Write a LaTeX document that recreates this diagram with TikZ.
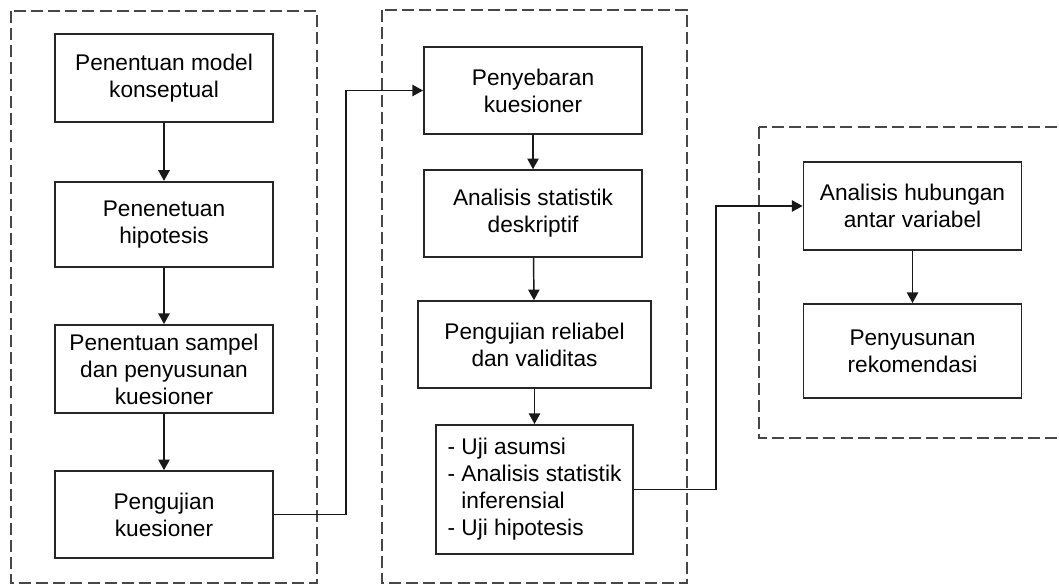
\documentclass[tikz,border=0pt]{standalone}
\usepackage{fontspec}
\setmainfont{Liberation Sans}
\usetikzlibrary{arrows.meta}

\begin{document}
\begin{tikzpicture}[x=0.75pt,y=-0.75pt,
  box/.style={draw=black!85,line width=1.4pt,align=center,minimum width=163.5pt,minimum height=65pt,inner sep=2pt,font=\fontsize{17}{20.3}\selectfont},
  grp/.style={draw=black!72,line width=1.6pt,dash pattern=on 9pt off 3.8pt},
  arr/.style={draw=black!90,line width=1.1pt,-{Triangle[width=8.5pt,length=8pt]}}]
\useasboundingbox (0,0) rectangle (1059,585);
\begin{scope}
\clip (0,0) rectangle (1059,585);
\draw[grp] (11,11) rectangle (317,583);
\draw[grp] (382,10) rectangle (687,583);
\draw[grp] (759,127) rectangle (1075,438);
\end{scope}
% kolom kiri
\node[box,minimum height=66pt] (k1) at (164,78) {Penentuan model\\konseptual};
\node[box,minimum height=64pt] (k2) at (164,224.5) {Penenetuan\\hipotesis};
\node[box,minimum height=66pt] (k3) at (164,369) {Penentuan sampel\\dan penyusunan\\kuesioner};
\node[box,minimum height=65pt] (k4) at (164,514.5) {Pengujian\\kuesioner};
% kolom tengah
\node[box] (m1) at (533,90.5) {Penyebaran\\kuesioner};
\node[box] (m2) at (533,213.5) {Analisis statistik\\deskriptif};
\node[box,minimum width=174.75pt] (m3) at (534.5,344.5) {Pengujian reliabel\\dan validitas};
\node[box,minimum width=147.75pt,minimum height=96.75pt,align=left] (m4) at (534.5,489.5) {- Uji asumsi\\- Analisis statistik\\\phantom{- }inferensial\\- Uji hipotesis};
% kolom kanan
\node[box,minimum height=66pt] (r1) at (912.5,206) {Analisis hubungan\\antar variabel};
\node[box,minimum height=70.5pt] (r2) at (912.5,351) {Penyusunan\\rekomendasi};
\foreach \a/\b in {k1/k2,k2/k3,k3/k4,m1/m2,m2/m3,m3/m4,r1/r2}
  \draw[arr] (\a) -- (\b);
\draw[arr] (k4.east) -- ++(72,0) |- (m1.west);
\draw[arr] (m4.east) -- ++(82,0) |- (r1.west);
\end{tikzpicture}
\end{document}
